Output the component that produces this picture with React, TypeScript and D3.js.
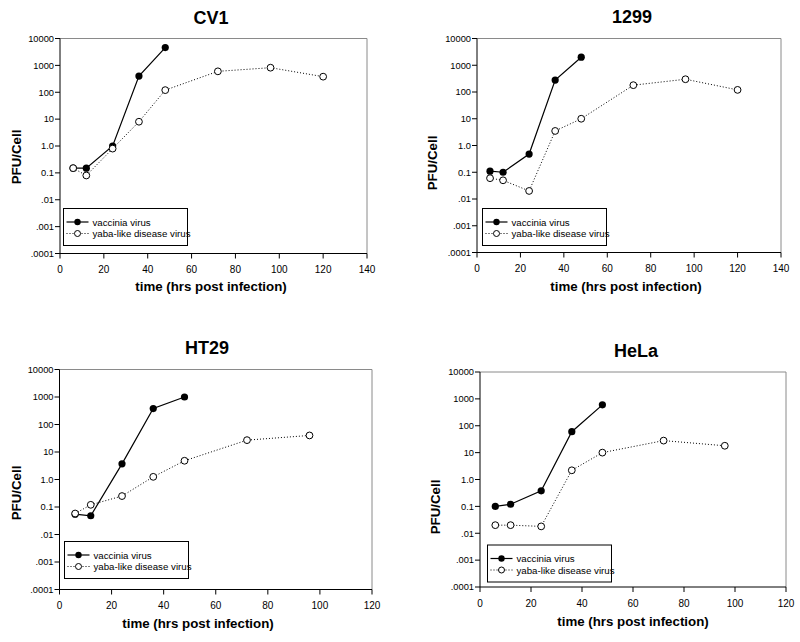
import React from "react";
import * as d3 from "d3";

// ---- data ----
const vacciniaTimes = [6, 12, 24, 36, 48];
const yabaTimesLong = [6, 12, 24, 36, 48, 72, 96, 120];
const yabaTimesShort = [6, 12, 24, 36, 48, 72, 96];

const cv1Vaccinia = [0.15, 0.15, 1.0, 400, 4600];
const cv1Yaba = [0.15, 0.08, 0.8, 8, 120, 600, 820, 380];

const h1299Vaccinia = [0.11, 0.1, 0.48, 280, 2000];
const h1299Yaba = [0.06, 0.05, 0.02, 3.5, 10, 180, 300, 120];

const ht29Vaccinia = [0.055, 0.048, 3.7, 380, 1000];
const ht29Yaba = [0.058, 0.12, 0.25, 1.25, 4.8, 27, 40];

const helaVaccinia = [0.1, 0.12, 0.38, 60, 600];
const helaYaba = [0.02, 0.02, 0.018, 2.2, 10, 28, 18];

const yTickValues = [0.0001, 0.001, 0.01, 0.1, 1, 10, 100, 1000, 10000];
const yTickLabels = [".0001", ".001", ".01", "0.1", "1.0", "10", "100", "1000", "10000"];
const xTicks140 = [0, 20, 40, 60, 80, 100, 120, 140];
const xTicks120 = [0, 20, 40, 60, 80, 100, 120];

const seriesNames = ["vaccinia virus", "yaba-like disease virus"];
const yLabel = "PFU/Cell";
const xLabel = "time (hrs post infection)";

type PanelCfg = {
  title: string;
  vac: number[];
  yaba: number[];
  yabaT: number[];
  xTicks: number[];
  left: number; right: number; top: number; bottom: number;
  titleX: number; titleY: number;
  xTitleX: number; xTitleY: number;
  yTitleX: number; yTitleY: number;
  legX: number; legY: number;
};

const panels: PanelCfg[] = [
  {
    title: "CV1", vac: cv1Vaccinia, yaba: cv1Yaba, yabaT: yabaTimesLong, xTicks: xTicks140,
    left: 60, right: 367, top: 38.5, bottom: 253.5,
    titleX: 211, titleY: 23.5, xTitleX: 211, xTitleY: 291, yTitleX: 16, yTitleY: 157,
    legX: 63.5, legY: 208.5,
  },
  {
    title: "1299", vac: h1299Vaccinia, yaba: h1299Yaba, yabaT: yabaTimesLong, xTicks: xTicks140,
    left: 477, right: 781, top: 38.5, bottom: 252.5,
    titleX: 632, titleY: 22.5, xTitleX: 626, xTitleY: 290.5, yTitleX: 432, yTitleY: 163,
    legX: 482.5, legY: 208.5,
  },
  {
    title: "HT29", vac: ht29Vaccinia, yaba: ht29Yaba, yabaT: yabaTimesShort, xTicks: xTicks120,
    left: 59.5, right: 372, top: 369.5, bottom: 589.5,
    titleX: 207, titleY: 353.5, xTitleX: 198, xTitleY: 628, yTitleX: 16, yTitleY: 493,
    legX: 64.5, legY: 541.5,
  },
  {
    title: "HeLa", vac: helaVaccinia, yaba: helaYaba, yabaT: yabaTimesShort, xTicks: xTicks120,
    left: 480, right: 786, top: 372, bottom: 587,
    titleX: 636, titleY: 357, xTitleX: 633, xTitleY: 625.5, yTitleX: 435, yTitleY: 507,
    legX: 487.5, legY: 545,
  },
];

const FONT = "Arial, 'Liberation Sans', Helvetica, sans-serif";

function Panel({ p }: { p: PanelCfg }) {
  const xMax = p.xTicks[p.xTicks.length - 1];
  const x = d3.scaleLinear().domain([0, xMax]).range([p.left, p.right]);
  const y = d3.scaleLog().domain([0.0001, 10000]).range([p.bottom, p.top]);
  const line = d3.line<[number, number]>().x((d) => x(d[0])).y((d) => y(d[1]));
  const vacPts: [number, number][] = vacciniaTimes.map((t, i) => [t, p.vac[i]]);
  const yabaPts: [number, number][] = p.yabaT.map((t, i) => [t, p.yaba[i]]);
  const legW = 124, legH = 37;
  return (
    <g>
      <text x={p.titleX} y={p.titleY} textAnchor="middle" fontSize={18} fontWeight="bold" fontFamily={FONT}>{p.title}</text>
      {/* frame */}
      <path d={`M${p.left},${p.top}H${p.right}V${p.bottom}`} fill="none" stroke="#8a8a8a" strokeWidth={1} />
      <line x1={p.left} x2={p.left} y1={p.top} y2={p.bottom} stroke="#000" strokeWidth={1} />
      <line x1={p.left} x2={p.right} y1={p.bottom} y2={p.bottom} stroke="#000" strokeWidth={1} />
      {yTickValues.map((v, i) => (
        <g key={"y" + i}>
          <line x1={p.left - 5} x2={p.left} y1={y(v)} y2={y(v)} stroke="#000" />
          <text x={p.left - 6} y={y(v) + 3.3} textAnchor="end" fontSize={9.3} fontFamily={FONT}>{yTickLabels[i]}</text>
        </g>
      ))}
      {p.xTicks.map((v, i) => (
        <g key={"x" + i}>
          <line x1={x(v)} x2={x(v)} y1={p.bottom} y2={p.bottom + 5} stroke="#000" />
          <text x={x(v)} y={p.bottom + 19.5} textAnchor="middle" fontSize={10} fontFamily={FONT}>{v}</text>
        </g>
      ))}
      <text x={p.xTitleX} y={p.xTitleY} textAnchor="middle" fontSize={13.3} fontWeight="bold" fontFamily={FONT}>{xLabel}</text>
      <text transform={`translate(${p.yTitleX + 4.5},${p.yTitleY}) rotate(-90)`} textAnchor="middle" fontSize={13.3} fontWeight="bold" fontFamily={FONT}>{yLabel}</text>
      {/* series */}
      <path d={line(vacPts) || ""} fill="none" stroke="#000" strokeWidth={1.2} />
      {vacPts.map((d, i) => (
        <circle key={"f" + i} cx={x(d[0])} cy={y(d[1])} r={3.6} fill="#000" />
      ))}
      <path d={line(yabaPts) || ""} fill="none" stroke="#000" strokeWidth={1} strokeDasharray="1,2" />
      {yabaPts.map((d, i) => (
        <circle key={"o" + i} cx={x(d[0])} cy={y(d[1])} r={3.4} fill="#fff" stroke="#000" strokeWidth={1} />
      ))}
      {/* legend */}
      <g>
        <rect x={p.legX} y={p.legY} width={legW} height={legH} fill="#fff" stroke="none" />
        <line x1={p.legX + 3} x2={p.legX + 25} y1={p.legY + 13.5} y2={p.legY + 13.5} stroke="#000" strokeWidth={1.2} />
        <circle cx={p.legX + 14} cy={p.legY + 13.5} r={3.2} fill="#000" />
        <text x={p.legX + 29} y={p.legY + 17} fontSize={9.7} fontFamily={FONT}>{seriesNames[0]}</text>
        <line x1={p.legX + 3} x2={p.legX + 25} y1={p.legY + 25} y2={p.legY + 25} stroke="#000" strokeWidth={1} strokeDasharray="1,2" />
        <circle cx={p.legX + 14} cy={p.legY + 25} r={3} fill="#fff" stroke="#000" />
        <text x={p.legX + 29} y={p.legY + 28.5} fontSize={9.7} fontFamily={FONT}>{seriesNames[1]}</text>
        <rect x={p.legX} y={p.legY} width={legW} height={legH} fill="none" stroke="#000" strokeWidth={1} />
      </g>
    </g>
  );
}

export default function App() {
  return (
    <svg width={800} height={642} style={{ position: "absolute", left: 0, top: 0, background: "#fff" }}>
      <rect x={0} y={0} width={800} height={642} fill="#fff" />
      {panels.map((p) => (
        <Panel key={p.title} p={p} />
      ))}
    </svg>
  );
}
